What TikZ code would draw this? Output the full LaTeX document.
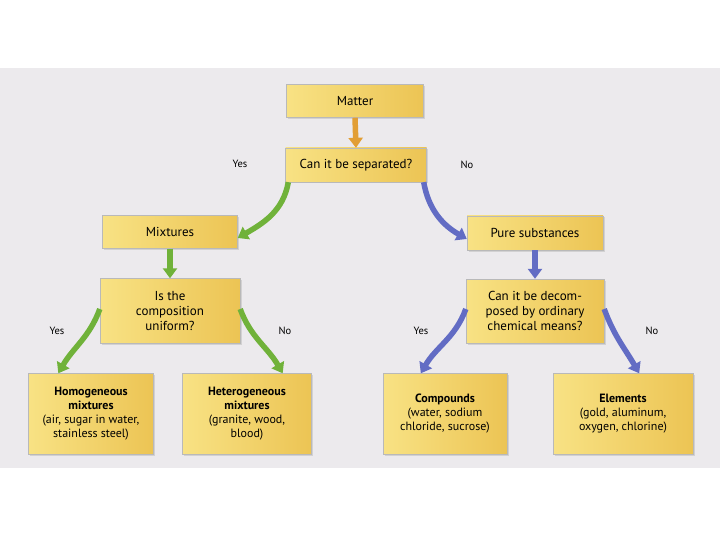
\documentclass[tikz,border=0pt]{standalone}
\usepackage{fontspec}
\setmainfont{PT Sans}
\usetikzlibrary{arrows.meta,shadows,positioning}
\definecolor{boxgold}{RGB}{236,196,84}
\definecolor{boxlight}{RGB}{248,226,132}
\definecolor{arrorange}{RGB}{226,158,52}
\definecolor{arrgreen}{RGB}{112,178,58}
\definecolor{arrblue}{RGB}{98,108,196}
\definecolor{pagegray}{RGB}{236,234,237}

\tikzset{
  box/.style={draw=gray!55, left color=boxlight, right color=boxgold,
    align=center, inner sep=2pt,
    drop shadow={shadow xshift=1.5pt, shadow yshift=-1.5pt, fill=gray!55}},
  smallbox/.style={box, font=\fontsize{12}{14}\selectfont},
  flow/.style={line width=5.5pt, -{Triangle[width=14pt,length=10pt]}},
  answer/.style={font=\fontsize{10.5}{12}\selectfont}
}

\begin{document}
\begin{tikzpicture}[x=1pt, y=-1pt, font=\fontsize{13}{15}\selectfont]
  % page and frame
  \useasboundingbox (0,0) rectangle (720,540);
  \fill[white] (0,0) rectangle (720,540);
  \fill[pagegray] (0,68) rectangle (720,468);

  % boxes
  \node[box, minimum width=137pt, minimum height=33pt] (matter) at (355,101) {Matter};
  \node[box, minimum width=141pt, minimum height=34pt] (sep) at (356,165) {Can it be separated?};
  \node[box, minimum width=135pt, minimum height=33pt] (mix) at (170,232) {Mixtures};
  \node[box, minimum width=136pt, minimum height=34pt] (pure) at (535,233) {Pure substances};
  \node[box, minimum width=140pt, minimum height=65pt] (unif) at (170,311) {Is the\\composition\\uniform?};
  \node[box, minimum width=138pt, minimum height=64pt] (decomp) at (535,311) {Can it be decom-\\posed by ordinary\\chemical means?};
  \node[smallbox, minimum width=125pt, minimum height=81pt] (homo) at (91,414) {\textbf{Homogeneous}\\\textbf{mixtures}\\(air, sugar in water,\\stainless steel)};
  \node[smallbox, minimum width=129pt, minimum height=81pt] (hetero) at (247,414) {\textbf{Heterogeneous}\\\textbf{mixtures}\\(granite, wood,\\blood)};
  \node[smallbox, minimum width=124pt, minimum height=81pt] (comp) at (445,414) {\textbf{Compounds}\\(water, sodium\\chloride, sucrose)};
  \node[smallbox, minimum width=140pt, minimum height=81pt] (elem) at (623,414) {\textbf{Elements}\\(gold, aluminum,\\oxygen, chlorine)};

  % answers
  \node[answer] (yes1) at (240,164) {Yes};
  \node[answer] (no1) at (467,165) {No};
  \node[answer] (yes2) at (57,331) {Yes};
  \node[answer] (no2) at (285,331) {No};
  \node[answer] (yes3) at (421,331) {Yes};
  \node[answer] (no3) at (652,331) {No};

  % arrows
  \draw[flow, arrorange] (matter.south) -- (sep.north);
  \draw[flow, arrgreen] ([xshift=3pt]sep.south west) to[out=-100, in=30] ([yshift=-6pt]mix.east);
  \draw[flow, arrblue] ([xshift=-3pt]sep.south east) to[out=-80, in=150] ([yshift=-6pt]pure.west);
  \draw[flow, arrgreen] (mix.south) -- (unif.north);
  \draw[flow, arrblue] (pure.south) -- (decomp.north);
  \draw[flow, arrgreen] ([yshift=2pt]unif.west) to[out=-110, in=60] ([xshift=30pt]homo.north west);
  \draw[flow, arrgreen] ([yshift=2pt]unif.east) to[out=-70, in=120] ([xshift=-29pt]hetero.north east);
  \draw[flow, arrblue] ([yshift=2pt]decomp.west) to[out=-110, in=60] ([xshift=38pt]comp.north west);
  \draw[flow, arrblue] ([yshift=2pt]decomp.east) to[out=-70, in=120] ([xshift=-54pt]elem.north east);
\end{tikzpicture}
\end{document}
